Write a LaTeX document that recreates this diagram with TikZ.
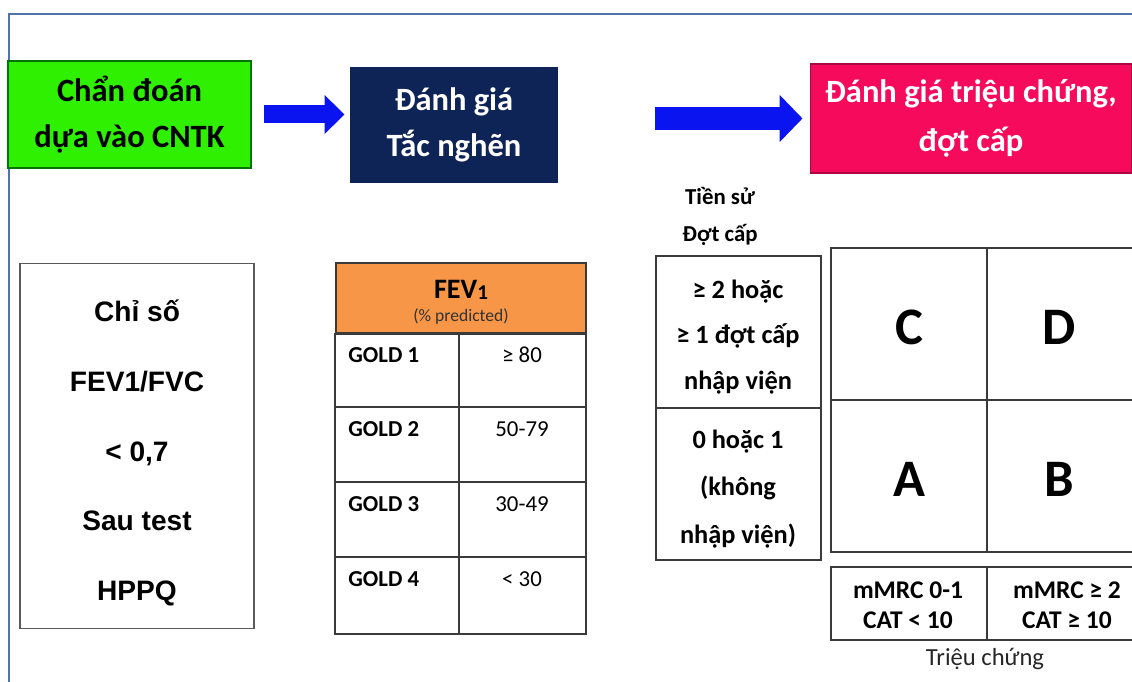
\documentclass[tikz,border=0pt]{standalone}
\usepackage{fontspec}
\setmainfont{Carlito}
\newfontfamily\arialfont{Liberation Sans}
\usetikzlibrary{arrows.meta}
\definecolor{framecol}{HTML}{5272A8}
\definecolor{cgreen}{HTML}{2EF000}
\definecolor{cnavy}{HTML}{0F2456}
\definecolor{cpink}{HTML}{F50A5C}
\definecolor{corange}{HTML}{F79646}
\definecolor{cblue}{HTML}{0A14F0}
\definecolor{cline}{HTML}{3A3A3A}

\begin{document}
\begin{tikzpicture}[x=0.02cm,y=-0.02cm,line join=miter,
    stepbox/.style={draw=#1, line width=0.6pt, inner sep=0pt, align=center,
      font=\bfseries\fontsize{18.5}{26.5}\selectfont},
    blockarrow/.style n args={3}{draw=cblue, line width=#1, -{Triangle[length=#2,width=#3]}},
    tableline/.style={draw=cline, line width=1.1pt},
    celltxt/.style={inner sep=0pt, align=center, font=\bfseries\fontsize{15}{26}\selectfont},
    bigletter/.style={font=\bfseries\fontsize{30}{32}\selectfont},
    goldtxt/.style={anchor=west, inner sep=0pt, font=\bfseries\fontsize{13}{15}\selectfont},
    valtxt/.style={inner sep=0pt, font=\fontsize{13}{15}\selectfont}]
    \useasboundingbox (0,0) rectangle (1132,682);
    \draw [framecol, line width=1.2pt] (9,690) -- (9,14) -- (1140,14);

    \node [stepbox=green!45!black, fill=cgreen, minimum width=4.86cm, minimum height=2.14cm] (diag) at (129.5,114.5) {Chẩn đoán\\dựa vào CNTK};
    \node [stepbox=cnavy, fill=cnavy, text=white, minimum width=4.12cm, minimum height=2.28cm, font=\bfseries\fontsize{18.5}{26}\selectfont] (obstr) at (454,125) {Đánh giá\\Tắc nghẽn};
    \node [stepbox=cpink!70!black, fill=cpink, text=white, minimum width=6.44cm, minimum height=2.18cm, font=\bfseries\fontsize{18.5}{28}\selectfont] (symp) at (971,118.5) {Đánh giá triệu chứng,\\đợt cấp};
    \draw [blockarrow={0.36cm}{0.4cm}{0.76cm}] ([xshift=0.24cm]diag.east) -- ([xshift=-0.12cm]diag.east -| obstr.west);
    \draw [blockarrow={0.48cm}{0.46cm}{0.92cm}] ([xshift=-3.1cm]symp.west) -- ([xshift=-0.14cm]symp.west);

    \node [draw=black!65, line width=0.6pt, minimum width=4.68cm, minimum height=7.32cm] (ratio) at (137,446) {};
    \node [align=center, inner sep=0pt, font=\arialfont\bfseries\fontsize{16}{39.7}\selectfont] (ratiotxt) at (137,453) {Chỉ số\\FEV1/FVC\\< 0,7\\Sau test\\HPPQ};

    \node [tableline, fill=corange, minimum width=5cm, minimum height=1.4cm, inner sep=0pt] (fev) at (461,298) {};
    \node [inner sep=0pt, font=\bfseries\fontsize{16}{18}\selectfont] (fevname) at (461,290) {FEV{\fontsize{12}{12}\selectfont\raisebox{-0.5pt}{1}}};
    \node [inner sep=0pt, font=\fontsize{10}{12}\selectfont, text=black!80] (fevunit) at (461,316) {(\% predicted)};
    \draw [tableline] (fev.south west) rectangle (586,634);
    \draw [tableline] (459,333) -- (459,634);
    \foreach \y in {407,482,557}
      \draw [tableline] (336,\y) -- (586,\y);
    \foreach \n/\y/\v in {1/355/{≥ 80},2/429/50-79,3/504/30-49,4/579/{< 30}} {
      \node [goldtxt] (gold\n) at (348,\y) {GOLD \n};
      \node [valtxt] (val\n) at (522,\y) {\v};
    }

    \node [inner sep=0pt, align=center, font=\bfseries\fontsize{13}{21}\selectfont] (hist) at (720,216) {Tiền sử\\Đợt cấp};
    \draw [tableline] (656,256) rectangle (821,560);
    \draw [tableline] (656,408) -- (821,408);
    \node [celltxt] (hist1) at (738,337) {≥ 2 hoặc\\≥ 1 đợt cấp\\nhập viện};
    \node [celltxt, font=\bfseries\fontsize{15}{27}\selectfont] (hist0) at (738,489) {0 hoặc 1\\(không\\nhập viện)};

    \draw [tableline] (1140,248) -- (831,248) -- (831,552) -- (1140,552);
    \draw [tableline] (987,248) -- (987,552);
    \draw [tableline] (831,400) -- (1140,400);
    \node [bigletter] (grpC) at (909,327) {C};
    \node [bigletter] (grpD) at (1059,327) {D};
    \node [bigletter] (grpA) at (909,479) {A};
    \node [bigletter] (grpB) at (1059,479) {B};

    \draw [tableline] (1140,567) -- (831,567) -- (831,640) -- (1140,640);
    \draw [tableline] (987,567) -- (987,640);
    \node [celltxt, font=\bfseries\fontsize{14.5}{17}\selectfont] (lowsymp) at (908,605) {mMRC 0-1\\CAT < 10};
    \node [celltxt, font=\bfseries\fontsize{14.5}{17}\selectfont] (highsymp) at (1067,605) {mMRC ≥ 2\\CAT ≥ 10};
    \node [inner sep=0pt, font=\fontsize{14}{16}\selectfont, text=black!85] (sympaxis) at (985,659) {Triệu chứng};
\end{tikzpicture}
\end{document}
